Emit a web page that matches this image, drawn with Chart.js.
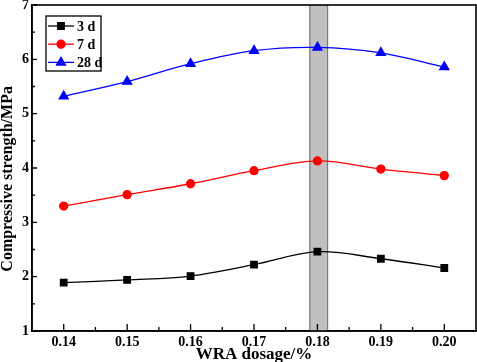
<!DOCTYPE html>
<html>
<head>
<meta charset="utf-8">
<script src="https://cdn.jsdelivr.net/npm/chart.js@4"></script>
<style>
  html, body { margin: 0; padding: 0; background: #fff; overflow: hidden; }
  #wrap { width: 477px; height: 362px; }
</style>
</head>
<body>
<div id="wrap"><canvas id="chart"></canvas></div>
<script>
// values
const dosage = [0.14, 0.15, 0.16, 0.17, 0.18, 0.19, 0.20];
const strength3d = [1.89, 1.94, 2.01, 2.22, 2.46, 2.33, 2.16];
const strength7d = [3.30, 3.51, 3.71, 3.95, 4.13, 3.98, 3.86];
const strength28d = [5.32, 5.59, 5.92, 6.16, 6.22, 6.12, 5.86];
const seriesLabels = ["3 d", "7 d", "28 d"];
const yTicks = [1, 2, 3, 4, 5, 6, 7];
const band = [0.1788, 0.1816];
const yTitle = "Compressive strength/MPa";

const serif = "'Liberation Serif', 'Times New Roman', serif";

function pts(ys) {
  return dosage.map((x, i) => ({ x: x, y: ys[i] }));
}

// grey band behind the lines
const bandPlugin = {
  id: "band",
  beforeDatasetsDraw(chart) {
    const { ctx, chartArea, scales } = chart;
    const x1 = scales.x.getPixelForValue(band[0]);
    const x2 = scales.x.getPixelForValue(band[1]);
    ctx.save();
    ctx.fillStyle = "#c0c0c0";
    ctx.fillRect(x1, chartArea.top, x2 - x1, chartArea.bottom - chartArea.top);
    ctx.strokeStyle = "#7a7a7a";
    ctx.lineWidth = 1.2;
    ctx.beginPath();
    ctx.moveTo(x1, chartArea.top); ctx.lineTo(x1, chartArea.bottom);
    ctx.moveTo(x2, chartArea.top); ctx.lineTo(x2, chartArea.bottom);
    ctx.stroke();
    ctx.restore();
  }
};

// frame, inward ticks and the y title (sits a bit below the middle)
const framePlugin = {
  id: "frame",
  afterDraw(chart) {
    const { ctx, chartArea: a, scales } = chart;
    ctx.save();
    ctx.strokeStyle = "#000";
    ctx.lineWidth = 1.6;
    ctx.strokeRect(a.left, a.top, a.right - a.left, a.bottom - a.top);
    ctx.lineWidth = 1.3;
    ctx.beginPath();
    for (let i = 0; i < dosage.length; i++) {
      const px = scales.x.getPixelForValue(dosage[i]);
      ctx.moveTo(px, a.bottom); ctx.lineTo(px, a.bottom - 7);
      if (i < dosage.length - 1) {
        const mx = scales.x.getPixelForValue((dosage[i] + dosage[i + 1]) / 2);
        ctx.moveTo(mx, a.bottom); ctx.lineTo(mx, a.bottom - 4);
      }
    }
    for (let i = 0; i < yTicks.length; i++) {
      const py = scales.y.getPixelForValue(yTicks[i]);
      ctx.moveTo(a.left, py); ctx.lineTo(a.left + 5, py);
      if (i < yTicks.length - 1) {
        const my = scales.y.getPixelForValue((yTicks[i] + yTicks[i + 1]) / 2);
        ctx.moveTo(a.left, my); ctx.lineTo(a.left + 3, my);
      }
    }
    ctx.stroke();

    ctx.translate(7.5, scales.y.getPixelForValue(3.8));
    ctx.rotate(-Math.PI / 2);
    ctx.fillStyle = "#000";
    ctx.font = "bold 16px " + serif;
    ctx.textAlign = "center";
    ctx.textBaseline = "middle";
    ctx.fillText(yTitle, 0, 0);
    ctx.restore();
  }
};

// legend box inside the plot
const legendPlugin = {
  id: "insideLegend",
  afterDraw(chart) {
    const { ctx, chartArea: a } = chart;
    const bx = a.left + 14, by = a.top + 11, bw = 55, bh = 55;
    ctx.save();
    ctx.strokeStyle = "#000";
    ctx.lineWidth = 1.3;
    ctx.strokeRect(bx, by, bw, bh);
    ctx.font = "bold 14px " + serif;
    ctx.textBaseline = "middle";
    chart.data.datasets.forEach((ds, i) => {
      const y = by + 10 + i * 18.2;
      ctx.strokeStyle = ds.borderColor;
      ctx.lineWidth = 1.3;
      ctx.beginPath();
      ctx.moveTo(bx + 2, y); ctx.lineTo(bx + 28, y);
      ctx.stroke();
      ctx.fillStyle = ds.pointBackgroundColor;
      ctx.strokeStyle = ds.pointBackgroundColor;
      Chart.helpers.drawPoint(ctx, {
        pointStyle: ds.pointStyle, radius: ds.pointRadius, rotation: 0, borderWidth: 1
      }, bx + 15, y);
      ctx.fillStyle = "#000";
      ctx.fillText(ds.label, bx + 31, y + 1);
    });
    ctx.restore();
  }
};

function series(label, ys, color, style, r) {
  return {
    label: label,
    data: pts(ys),
    borderColor: color,
    backgroundColor: color,
    pointBackgroundColor: color,
    pointBorderColor: color,
    pointStyle: style,
    pointRadius: r,
    borderWidth: 1.3,
    tension: 0.35,
    fill: false
  };
}

new Chart(document.getElementById("chart"), {
  type: "line",
  data: {
    datasets: [
      series(seriesLabels[0], strength3d, "#000000", "rect", 4.6),
      series(seriesLabels[1], strength7d, "#ff0000", "circle", 4),
      series(seriesLabels[2], strength28d, "#0000ff", "triangle", 5.2)
    ]
  },
  options: {
    responsive: true,
    maintainAspectRatio: false,
    animation: false,
    layout: { autoPadding: false, padding: { top: 5, right: 1, bottom: 0, left: 0 } },
    plugins: {
      legend: { display: false },
      tooltip: { enabled: false }
    },
    scales: {
      x: {
        type: "linear",
        min: 0.135,
        max: 0.205,
        afterBuildTicks(scale) {
          scale.ticks = dosage.map(v => ({ value: v }));
        },
        ticks: {
          color: "#000",
          font: { family: serif, size: 14, weight: "bold" },
          padding: 3,
          callback: v => v.toFixed(2)
        },
        grid: { display: false, drawTicks: false },
        border: { display: true, color: "#000", width: 1.6 },
        title: {
          display: true,
          text: "WRA dosage/%",
          color: "#000",
          font: { family: serif, size: 17, weight: "bold" },
          padding: { top: 0, bottom: -3 }
        },
        afterFit(scale) {
          scale.height = 31;
          scale.paddingLeft = 0;
          scale.paddingRight = 0;
        }
      },
      y: {
        min: 1,
        max: 7,
        afterBuildTicks(scale) {
          scale.ticks = yTicks.map(v => ({ value: v }));
        },
        ticks: {
          color: "#000",
          font: { family: serif, size: 14, weight: "bold" },
          padding: 3,
          callback: v => String(v)
        },
        grid: { display: false, drawTicks: false },
        border: { display: true, color: "#000", width: 1.6 },
        afterFit(scale) {
          scale.width = 32;
          scale.paddingTop = 0;
          scale.paddingBottom = 0;
        }
      }
    }
  },
  plugins: [bandPlugin, framePlugin, legendPlugin]
});
</script>
</body>
</html>
